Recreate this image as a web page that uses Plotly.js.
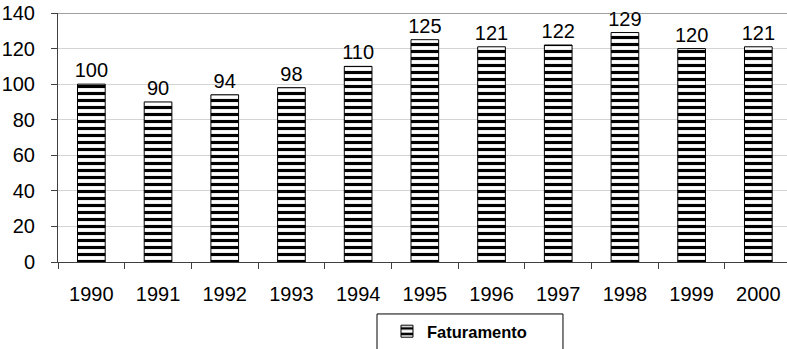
<!DOCTYPE html>
<html>
<head>
<meta charset="utf-8">
<script src="https://cdn.plot.ly/plotly-3.0.1.min.js"></script>
<style>html,body{margin:0;padding:0;background:#fff;}#chart{width:787px;height:349px;}</style>
</head>
<body>
<div id="chart"></div>
<script>
const years = ['1990','1991','1992','1993','1994','1995','1996','1997','1998','1999','2000'];
const faturamento = [100, 90, 94, 98, 110, 125, 121, 122, 129, 120, 121];
const seriesName = 'Faturamento';
const yTicks = [0, 20, 40, 60, 80, 100, 120, 140];

const FONT = 'Liberation Sans, Arial, sans-serif';
const FS = 20;

const trace = {
  type: 'bar',
  x: years,
  y: faturamento,
  name: seriesName,
  width: 0.415,
  text: faturamento.map(String),
  textposition: 'outside',
  constraintext: 'none',
  cliponaxis: false,
  textfont: {family: FONT, size: FS, color: '#000'},
  marker: {
    color: '#ffffff',
    line: {color: '#000', width: 1},
    pattern: {shape: '-', fgcolor: '#000', bgcolor: '#fff', size: 7, solidity: 0.45, fillmode: 'replace'}
  },
  showlegend: true,
  hoverinfo: 'x+y'
};

const layout = {
  width: 787, height: 349,
  margin: {l: 58, r: 0, t: 13, b: 82, pad: 0},
  paper_bgcolor: '#fff', plot_bgcolor: '#fff',
  font: {family: FONT, size: FS, color: '#000'},
  showlegend: true,
  bargap: 0,
  xaxis: {
    type: 'category',
    range: [-0.5, 10.43],
    tickson: 'boundaries',
    ticks: 'outside', ticklen: 6, tickcolor: '#404040', tickwidth: 1,
    showline: true, linecolor: '#404040', linewidth: 1,
    showgrid: false, zeroline: false,
    ticklabelstandoff: 14,
    tickfont: {family: FONT, size: FS, color: '#000'}
  },
  yaxis: {
    range: [0, 140],
    tickvals: yTicks,
    ticks: 'outside', ticklen: 6, tickcolor: '#404040', tickwidth: 1,
    showline: true, linecolor: '#404040', linewidth: 1,
    showgrid: true, gridcolor: '#d4d4d4', gridwidth: 1,
    zeroline: false,
    ticklabelstandoff: 12,
    tickfont: {family: FONT, size: FS, color: '#000'}
  },
  shapes: [
    {type: 'line', xref: 'paper', yref: 'y', x0: -0.008, x1: 1, y0: 140, y1: 140,
     line: {color: '#404040', width: 1}},
    {type: 'rect', xref: 'paper', yref: 'paper', x0: 0.4376, x1: 0.6927, y0: -0.2087, y1: -0.37,
     line: {color: '#000', width: 1}, fillcolor: 'rgba(0,0,0,0)'}
  ],
  legend: {
    orientation: 'h',
    x: 0.4513, xanchor: 'left',
    y: -0.2087, yanchor: 'top',
    bgcolor: 'rgba(0,0,0,0)',
    borderwidth: 0,
    font: {family: FONT, size: 16.5, color: '#000', weight: 'bold'}
  }
};

Plotly.newPlot('chart', [trace], layout, {displayModeBar: false, staticPlot: true});
</script>
</body>
</html>
